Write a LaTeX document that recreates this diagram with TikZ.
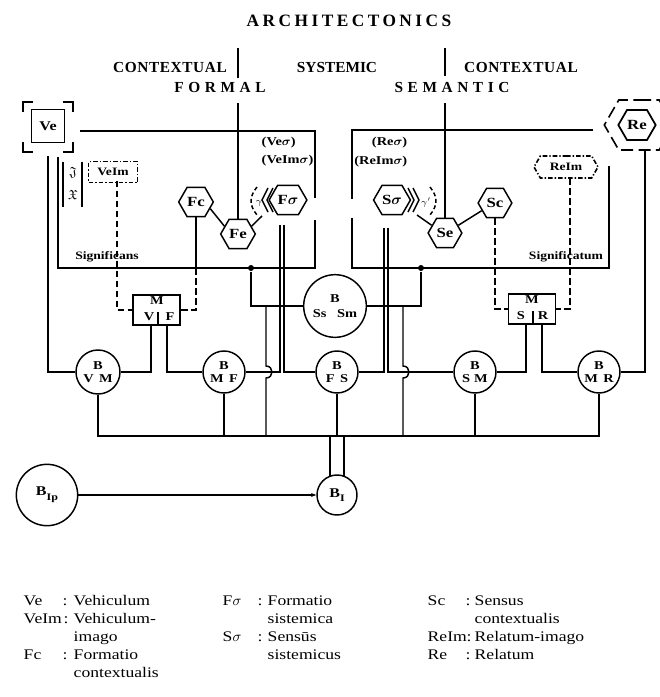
\documentclass[tikz,border=0pt]{standalone}
\usepackage{amsmath,amssymb}
\usepackage{fontspec}
\setmainfont{Liberation Serif}
\newfontfamily\wf[FakeStretch=1.2]{Liberation Serif}
\usetikzlibrary{shapes.symbols,arrows.meta}
\begin{document}
\begin{tikzpicture}[x=0.75pt,y=-0.75pt,line width=1.1pt,
  hexn/.style={draw,line width=1.1pt,signal,signal to=east and west,signal pointer angle=120,
    minimum width=24pt,minimum height=22pt,inner sep=0pt,font=\wf\fontsize{10.5}{11}\selectfont\bfseries},
  bc/.style={draw,circle,minimum size=31.5pt,inner sep=0pt,align=center,
    font=\wf\fontsize{9}{10}\selectfont\bfseries},
  mbox/.style={draw,line width=1.3pt,minimum width=35.25pt,minimum height=22.5pt,inner sep=0pt},
  lab/.style={inner sep=0pt,font=\wf\fontsize{9}{10}\selectfont\bfseries},
  tiny/.style={inner sep=0pt,font=\wf\fontsize{8.5}{9}\selectfont\bfseries},
  head/.style={inner sep=0pt,font=\fontsize{11.5}{12}\selectfont\bfseries},
  leg/.style={inner sep=0pt,anchor=base west,font=\wf\fontsize{11}{12}\selectfont},
  boxline/.style={line width=1.5pt},
  dsh/.style={dash pattern=on 5pt off 2.5pt},
  ddot/.style={dash pattern=on 3.5pt off 1.5pt on 1pt off 1.5pt},
  jdot/.style={circle,fill,inner sep=0pt,minimum size=4.5pt},
]
\useasboundingbox (0,0) rectangle (660,697);

% ---------- headings
\node[inner sep=0pt,font=\fontsize{13}{14}\selectfont\bfseries] (title) at (349,21) {\addfontfeature{LetterSpace=20}ARCHITECTONICS};
\node[head] (ctxL) at (170,67) {\addfontfeature{LetterSpace=4}CONTEXTUAL};
\node[head] (sys) at (337,67) {SYSTEMIC};
\node[head] (ctxR) at (521,67) {\addfontfeature{LetterSpace=4}CONTEXTUAL};
\node[head] (formal) at (220,87) {\addfontfeature{LetterSpace=30}FORMAL};
\node[head] (seman) at (452,87) {\addfontfeature{LetterSpace=30}SEMANTIC};

\coordinate (tl1) at (238,48); \coordinate (tl2) at (238,78); \coordinate (tl3) at (238,103);
\coordinate (tr1) at (445,48); \coordinate (tr2) at (445,76); \coordinate (tr3) at (445,103);
\draw (tl1) -- (tl2);
\draw (tr1) -- (tr2);

% ---------- Ve and Re
\node[draw,line width=1.4pt,minimum size=24.75pt,inner sep=0pt,font=\wf\fontsize{10}{10}\selectfont\bfseries] (Ve) at (48,126) {Ve};
\draw[line width=1.4pt] (23,112)--(23,102)--(33,102) (63,102)--(73,102)--(73,112)
  (73,142)--(73,152)--(63,152) (33,152)--(23,152)--(23,142);
\node[hexn,minimum width=28pt,minimum height=22.5pt,line width=1.3pt] (Re) at (637,125) {Re};
\node[draw,dashed,dash pattern=on 9pt off 4pt,line width=1.2pt,signal,signal to=east and west,signal pointer angle=120,
  minimum width=52pt,minimum height=37.5pt,inner sep=0pt] (Reo) at (639,125) {};

% ---------- framing boxes
\draw[boxline] (80,131) -- (315,131) -- (315,198);
\draw[boxline] (315,220) -- (315,268) -- (58,268) -- (58,157);
\draw[boxline] (593,130) -- (352,130) -- (352,199);
\draw[boxline] (352,218) -- (352,268) -- (609,268) -- (609,166);
\node[tiny] (sgf) at (107,257) {Significans};
\node[tiny] (sgt) at (566,257) {Significatum};

% bracket with fraktur letters
\draw (63,162) -- (63,207);
\draw (82,162) -- (82,207);
\node[inner sep=0pt] (frA) at (73,173) {$\mathfrak{J}$};
\node[inner sep=0pt] (frB) at (73,195) {$\mathfrak{X}$};

% ---------- image nodes
\node[draw,ddot,line width=1.2pt,minimum width=36.75pt,minimum height=15.75pt,inner sep=0pt,
  font=\wf\fontsize{8.5}{9}\selectfont\bfseries] (VeIm) at (113,172) {VeIm};
\node[draw,ddot,line width=1.2pt,signal,signal to=east and west,signal pointer angle=120,
  minimum width=48pt,minimum height=16.5pt,inner sep=0pt,font=\wf\fontsize{8.5}{9}\selectfont\bfseries] (ReIm) at (566,167) {ReIm};

% ---------- hexagons
\node[hexn] (Fc) at (196,202) {Fc};
\node[hexn] (Fe) at (238,234) {Fe};
\node[hexn] (Fs) at (288,200) {F$\boldsymbol{\sigma}$};
\node[hexn] (Ss) at (392,200) {S$\boldsymbol{\sigma}$};
\node[hexn] (Se) at (445,233) {Se};
\node[hexn] (Sc) at (495,203) {Sc};

\draw (tl3) -- (Fe.north);
\draw (tr3) -- (Se.north);
\draw (Fc.-25) -- (Fe.150);
\coordinate (feR) at (262,216);
\draw (Fe.30) -- (feR);
\coordinate (seL) at (417,215);
\draw (Se.150) -- (seL);
\draw (Se.30) -- (Sc.-150);

% echoes around F sigma and S sigma
\draw[line width=1.1pt] (268,188) -- (262,200) -- (268,212);
\draw[line width=1.1pt] (273,188) -- (267,200) -- (273,212);
\draw[dashed,dash pattern=on 3pt off 2pt] (257,187) .. controls (249,197) and (249,205) .. (257,215);
\node[inner sep=0pt,font=\fontsize{7}{7}\selectfont] (gL) at (259,203) {$\gamma$};
\draw[line width=1.1pt] (408,188) -- (414,200) -- (408,212);
\draw[line width=1.1pt] (413,188) -- (419,200) -- (413,212);
\draw[dashed,dash pattern=on 3pt off 2pt] (430,187) .. controls (438,197) and (438,205) .. (430,215);
\node[inner sep=0pt,font=\fontsize{7}{7}\selectfont] (gR) at (426,203) {$\gamma'$};

\node[lab,anchor=west] (lVs) at (261,143) {(Ve$\boldsymbol{\sigma}$)};
\node[lab,anchor=west] (lVIs) at (261,161) {(VeIm$\boldsymbol{\sigma}$)};
\node[lab,anchor=east] (lRs) at (408,143) {(Re$\boldsymbol{\sigma}$)};
\node[lab,anchor=east] (lRIs) at (408,162) {(ReIm$\boldsymbol{\sigma}$)};

% ---------- junction dots
\node[jdot] (dL) at (251,268) {};
\node[jdot] (dR) at (421,268) {};

% ---------- M boxes
\node[mbox] (MVF) at (156.5,310) {};
\node[lab] (mM1) at (157,301) {M};
\node[lab] (mV) at (149,317) {V};
\node[lab] (mF) at (170,317) {F};
\draw (158,312) -- (158,325);
\node[mbox] (MSR) at (532,309) {};
\node[lab] (mM2) at (532,300) {M};
\node[lab] (mS) at (521,316) {S};
\node[lab] (mR) at (543,316) {R};
\draw (533,311) -- (533,324);

% ---------- B circles
\node[bc,minimum size=33pt] (BVM) at (98,372) {B\\V\hspace{4pt}M};
\node[bc] (BMF) at (224,372) {B\\M\hspace{4pt}F};
\node[bc] (BFS) at (337,372) {B\\F\hspace{4pt}S};
\node[bc] (BSM) at (475,372) {B\\S\hspace{3pt}M};
\node[bc] (BMR) at (599,372) {B\\M\hspace{4pt}R};
\node[bc,minimum size=47pt] (BSs) at (335,306) {B\\[1pt]Ss\hspace{8pt}Sm};
\node[bc,minimum size=30pt,font=\wf\fontsize{10}{10}\selectfont\bfseries] (BI) at (337,495) {B\raisebox{-3.5pt}{\fontsize{7.5}{8}\selectfont I}};
\node[bc,minimum size=46pt,font=\wf\fontsize{10}{10}\selectfont\bfseries] (BIp) at (47,495) {B\raisebox{-3.5pt}{\fontsize{7.5}{8}\selectfont Ip}};

% ---------- dashed image connections
\coordinate (vimb) at (117,180.5);
\draw[dsh] (vimb) |- (MVF.west);
\coordinate (fcb) at (196,268);
\draw (Fc.south) -- (fcb);
\draw[dsh] (fcb) |- (MVF.east);
\draw[dsh] (Sc.south) |- (MSR.west);
\coordinate (rimb) at (570,178);
\draw[dsh] (rimb) |- (MSR.east);

% ---------- M box outputs
\coordinate (pV) at (151,325);
\coordinate (pF) at (167,325);
\coordinate (pS) at (526,324);
\coordinate (pR) at (542,324);
\draw (pV) |- (BVM.east);
\draw (pF) |- (BMF.west);
\draw (pS) |- (BSM.east);
\draw (pR) |- (BMR.west);

% ---------- Ve / Re verticals
\coordinate (veb) at (48,156);
\draw (veb) |- (BVM.west);
\coordinate (reb) at (645,150);
\draw (reb) |- (BMR.east);

% ---------- systemic double lines
\coordinate (fs1) at (280,225); \coordinate (fs2) at (284,225);
\coordinate (ss1) at (384,228); \coordinate (ss2) at (388,228);
\draw (fs1) |- (BMF.east);
\draw (fs2) |- (BFS.west);
\draw (ss1) |- (BFS.east);
\draw (ss2) |- (BSM.west);
\draw (dL) |- (BSs.west);
\draw (dR) |- (BSs.east);

% ---------- bus
\coordinate (busL) at (98,436);
\coordinate (busR) at (599,436);
\draw (BVM.south) -- (busL) -- (busR) -- (BMR.south);
\draw (BMF.south) -- (BMF.south |- busL);
\draw (BFS.south) -- (BFS.south |- busL);
\draw (BSM.south) -- (BSM.south |- busL);
\coordinate (hL) at (266,306);
\coordinate (hR) at (403,306);
\draw (hL) -- (266,366) .. controls (274,366) and (274,378) .. (266,378) -- (hL |- busL);
\draw (hR) -- (403,366) .. controls (411,366) and (411,378) .. (403,378) -- (hR |- busL);

% ---------- BI
\coordinate (bi1) at (330,436); \coordinate (bi2) at (344,436);
\draw (bi1) -- (330,477);
\draw (bi2) -- (344,477);
\draw[-{Stealth[length=4pt,width=3pt]}] (BIp.east) -- (BI.west);

% ---------- legend
\node[leg] (k1) at (23,605) {Ve};   \node[leg] (c1) at (62,605) {:}; \node[leg] (t1) at (73,605) {Vehiculum};
\node[leg] (k2) at (23,623) {VeIm}; \node[leg] (c2) at (63,623) {:}; \node[leg] (t2) at (73,623) {Vehiculum-};
\node[leg] (t3) at (73,641) {imago};
\node[leg] (k4) at (23,659) {Fc};   \node[leg] (c4) at (62,659) {:}; \node[leg] (t4) at (73,659) {Formatio};
\node[leg] (t5) at (73,677) {contextualis};

\node[leg] (k6) at (222,605) {F$\sigma$}; \node[leg] (c6) at (257,605) {:}; \node[leg] (t6) at (267,605) {Formatio};
\node[leg] (t7) at (267,623) {sistemica};
\node[leg] (k8) at (222,641) {S$\sigma$}; \node[leg] (c8) at (257,641) {:}; \node[leg] (t8) at (267,641) {Sensūs};
\node[leg] (t9) at (267,659) {sistemicus};

\node[leg] (k10) at (427,605) {Sc}; \node[leg] (c10) at (465,605) {:}; \node[leg] (t10) at (474,605) {Sensus};
\node[leg] (t11) at (474,623) {contextualis};
\node[leg] (k12) at (427,641) {ReIm}; \node[leg] (c12) at (466,641) {:}; \node[leg] (t12) at (474,641) {Relatum-imago};
\node[leg] (k13) at (427,659) {Re}; \node[leg] (c13) at (465,659) {:}; \node[leg] (t13) at (474,659) {Relatum};
\end{tikzpicture}
\end{document}
